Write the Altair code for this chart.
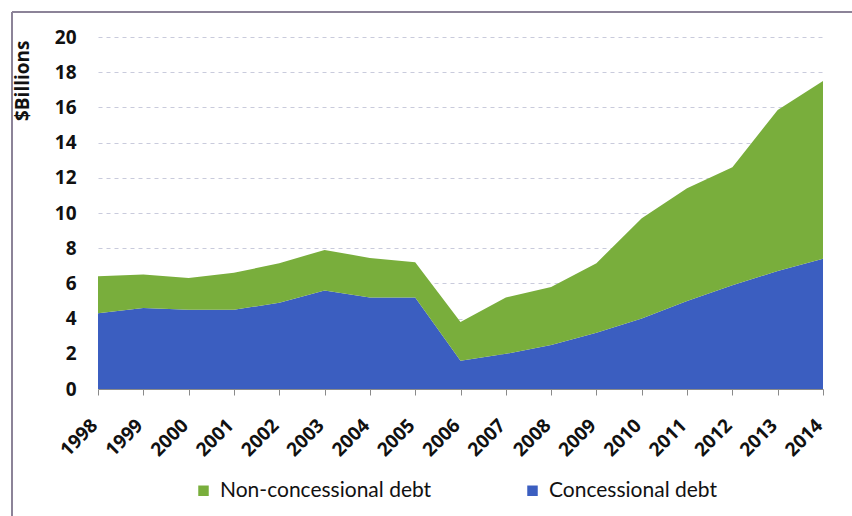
import altair as alt
import pandas as pd

years = [str(y) for y in range(1998, 2015)]
concessional = [4.3, 4.6, 4.5, 4.5, 4.9, 5.6, 5.2, 5.2, 1.6, 2.0, 2.5, 3.2, 4.0, 5.0, 5.9, 6.7, 7.4]
non_concessional = [2.1, 1.9, 1.8, 2.1, 2.25, 2.3, 2.25, 2.0, 2.2, 3.2, 3.3, 3.95, 5.7, 6.4, 6.7, 9.15, 10.1]
series_names = ["Non-concessional debt", "Concessional debt"]
series_colors = ["#79ae3c", "#3b5ec0"]

rows = []
for i, y in enumerate(years):
    rows.append({"year": y, "series": "Concessional debt", "value": concessional[i], "ord": 0})
    rows.append({"year": y, "series": "Non-concessional debt", "value": non_concessional[i], "ord": 1})
df = pd.DataFrame(rows)

BFONT = "Open Sans"
LFONT = "Lato"

area = alt.Chart(df).mark_area(opacity=1).encode(
    x=alt.X("year:O", scale=alt.Scale(type="point", padding=0),
            axis=alt.Axis(title=None, labelAngle=-45, labelAlign="right", labelBaseline="middle",
                          labelFont=BFONT, labelFontWeight="bold", labelFontSize=19, labelColor="#111",
                          labelPadding=27, labelOffset=-4,
                          domainColor="#8a8a8a", tickColor="#8a8a8a", tickSize=6, grid=False)),
    y=alt.Y("value:Q", stack="zero", scale=alt.Scale(domain=[0, 20], nice=False),
            axis=alt.Axis(title="$Billions", values=list(range(0, 21, 2)),
                          labelFont=BFONT, labelFontWeight="bold", labelFontSize=19, labelColor="#111",
                          labelPadding=22, domain=False, ticks=False,
                          grid=True, gridColor="#c9cbdc", gridDash=[4, 4], gridWidth=1,
                          titleFont=BFONT, titleFontWeight="bold", titleFontSize=19, titleColor="#111",
                          titleAngle=270, titleAlign="right", titleBaseline="middle",
                          titleX=-76, titleY=3)),
    color=alt.Color("series:N", scale=alt.Scale(domain=series_names, range=series_colors),
                    legend=alt.Legend(title=None, orient="none", legendX=95, legendY=443,
                                      direction="horizontal", columns=2, columnPadding=90,
                                      symbolType="square", symbolSize=110, symbolStrokeWidth=0,
                                      labelFont=LFONT, labelFontSize=21, labelColor="#111",
                                      labelLimit=0, labelOffset=6)),
    order=alt.Order("ord:Q", sort="ascending"),
)

frame_df = pd.DataFrame({"k": [0]})
top_line = alt.Chart(frame_df).mark_rule(color="#8c8398", strokeWidth=2).encode(
    x=alt.value(-86), x2=alt.value(754), y=alt.value(-25))
left_line = alt.Chart(frame_df).mark_rule(color="#8c8398", strokeWidth=2).encode(
    x=alt.value(-86), y=alt.value(-25), y2=alt.value(479))

chart = alt.layer(area, top_line, left_line).properties(
    width=725, height=352,
    autosize=alt.AutoSizeParams(type="none"),
    padding={"left": 98, "top": 37, "right": 29, "bottom": 127},
    background="white",
).configure_view(stroke=None)

chart.save("out.html", embed_options={"renderer": "svg", "actions": False})
